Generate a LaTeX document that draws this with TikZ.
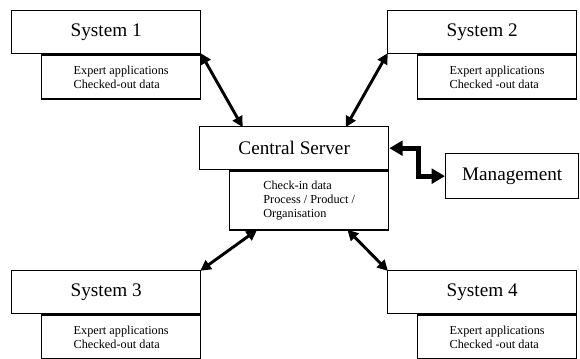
\documentclass[tikz,border=0pt]{standalone}
\usepackage{fontspec}
\setmainfont{Liberation Serif}
\usetikzlibrary{arrows.meta,calc}

\begin{document}
\begin{tikzpicture}[x=0.75pt, y=-0.75pt,
  mainbox/.style={rectangle, draw, line width=1pt, minimum width=141.75pt, minimum height=32.25pt, inner sep=0pt, font=\fontsize{14.4}{17}\selectfont},
  subbox/.style={rectangle, draw, line width=1pt, minimum width=119.25pt, minimum height=33pt, inner sep=0pt, align=left, font=\fontsize{9.2}{10.5}\selectfont},
  link/.style={line width=2.2pt, {Triangle[length=8pt, width=8pt]}-{Triangle[length=8pt, width=8pt]}, shorten <=-1pt, shorten >=-1pt},
  mgmtlink/.style={line width=3.6pt, {Triangle[length=10pt, width=11pt]}-{Triangle[length=10pt, width=11pt]}},
]
\useasboundingbox (0,0) rectangle (580,359);

% central server
\node[mainbox, anchor=north west] (central) at (199,126) {Central Server};
\node[subbox, anchor=north east, minimum height=44.25pt] (centraldata) at (central.south east) {Check-in data\\Process / Product /\\Organisation};

% the four systems
\node[mainbox, anchor=north west] (sys1) at (11,10) {System 1};
\node[subbox, anchor=north east] (sys1data) at (sys1.south east) {Expert applications\\Checked-out data};

\node[mainbox, anchor=north west] (sys2) at (387,10) {System 2};
\node[subbox, anchor=north east] (sys2data) at (sys2.south east) {Expert applications\\Checked -out data};

\node[mainbox, anchor=north west] (sys3) at (11,270) {System 3};
\node[subbox, anchor=north east] (sys3data) at (sys3.south east) {Expert applications\\Checked-out data};

\node[mainbox, anchor=north west] (sys4) at (387,270) {System 4};
\node[subbox, anchor=north east] (sys4data) at (sys4.south east) {Expert applications\\Checked -out data};

% management
\node[mainbox, anchor=north west, minimum width=99.75pt, minimum height=33.75pt] (mgmt) at (445,153) {Management};

% links
\draw[link] (sys1.south east) -- ($(central.north west)+(43,0)$);
\draw[link] (sys2.south west) -- ($(central.north east)+(-43,0)$);
\draw[link] ($(centraldata.south west)+(27,0)$) -- (sys3.north east);
\draw[link] ($(centraldata.south east)+(-41,0)$) -- (sys4.north west);
\draw[mgmtlink] (central.east) -- ++(29,0) |- (mgmt.west);
\end{tikzpicture}
\end{document}
